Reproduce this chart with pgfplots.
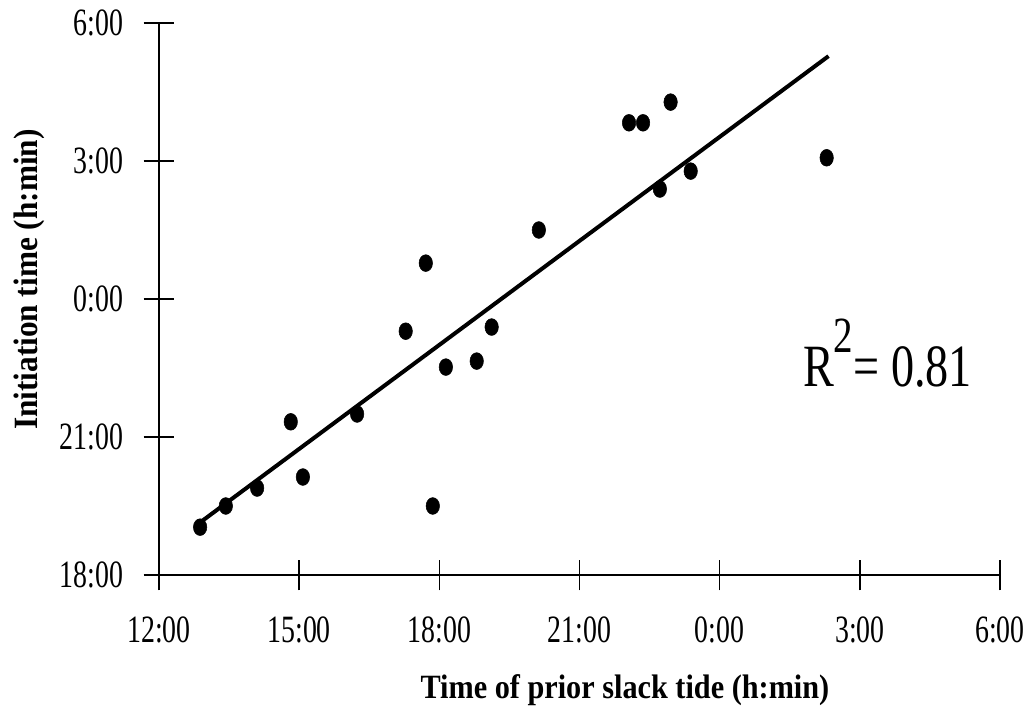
\documentclass[border=0pt]{standalone}
\usepackage{fontspec}
\setmainfont{Liberation Serif}
\newfontfamily\tickfont{Liberation Serif}[FakeStretch=0.72]
\newfontfamily\lblfont{Liberation Serif}[FakeStretch=0.89]
\newfontfamily\ylblfont{Liberation Serif}[FakeStretch=0.92]
\newfontfamily\rfont{Liberation Serif}[FakeStretch=0.77]
\usepackage{pgfplots}
\pgfplotsset{compat=1.18}
\begin{document}
\begin{tikzpicture}
\useasboundingbox (-119.25pt,-109.5pt) rectangle (651pt,431.25pt);
\begin{axis}[
  scale only axis,
  width=630.75pt, height=414pt,
  xmin=12, xmax=30, ymin=18, ymax=30,
  axis lines*=left,
  axis line style={line width=1.2pt},
  xtick={12,15,18,21,24,27,30},
  xticklabels={12:00,15:00,18:00,21:00,0:00,3:00,6:00},
  ytick={18,21,24,27,30},
  yticklabels={18:00,21:00,0:00,3:00,6:00},
  tick align=center,
  major tick length=23pt,
  tick style={line width=1.2pt, black},
  ticklabel style={font=\tickfont\fontsize{29pt}{34pt}\selectfont},
  xticklabel style={yshift=-16pt},
  yticklabel style={xshift=-12pt},
  xlabel={\lblfont\bfseries\fontsize{25.5pt}{30pt}\selectfont Time of prior slack tide (h:min)},
  ylabel={\ylblfont\bfseries\fontsize{25.5pt}{30pt}\selectfont Initiation time (h:min)},
  xlabel style={at={(axis description cs:0.554,-0.2246)}, anchor=base},
  ylabel style={at={(axis description cs:-0.1546,0.535)}, anchor=center, rotate=0},
  clip=false,
]
\addplot[only marks, mark=*, mark size=6.3pt, mark options={xscale=0.8, fill=black, draw=black}] coordinates {
(12.88,19.04)
(13.43,19.50)
(14.10,19.89)
(14.82,21.33)
(15.08,20.13)
(16.24,21.50)
(17.28,23.30)
(17.71,24.78)
(17.86,19.50)
(18.14,22.52)
(18.80,22.65)
(19.12,23.39)
(20.13,25.50)
(22.06,27.83)
(22.36,27.83)
(22.72,26.39)
(22.95,28.28)
(23.38,26.78)
(26.29,27.07)
};
\addplot[black, line width=3pt] coordinates {(12.81,19.09) (26.33,29.28)};
\node[anchor=base west, inner sep=0pt, font=\rfont\fontsize{45pt}{52pt}\selectfont] at (axis cs:25.78,22.09) {R\raisebox{26pt}{\fontsize{38pt}{44pt}\selectfont 2}= 0.81};
\end{axis}
\end{tikzpicture}
\end{document}
